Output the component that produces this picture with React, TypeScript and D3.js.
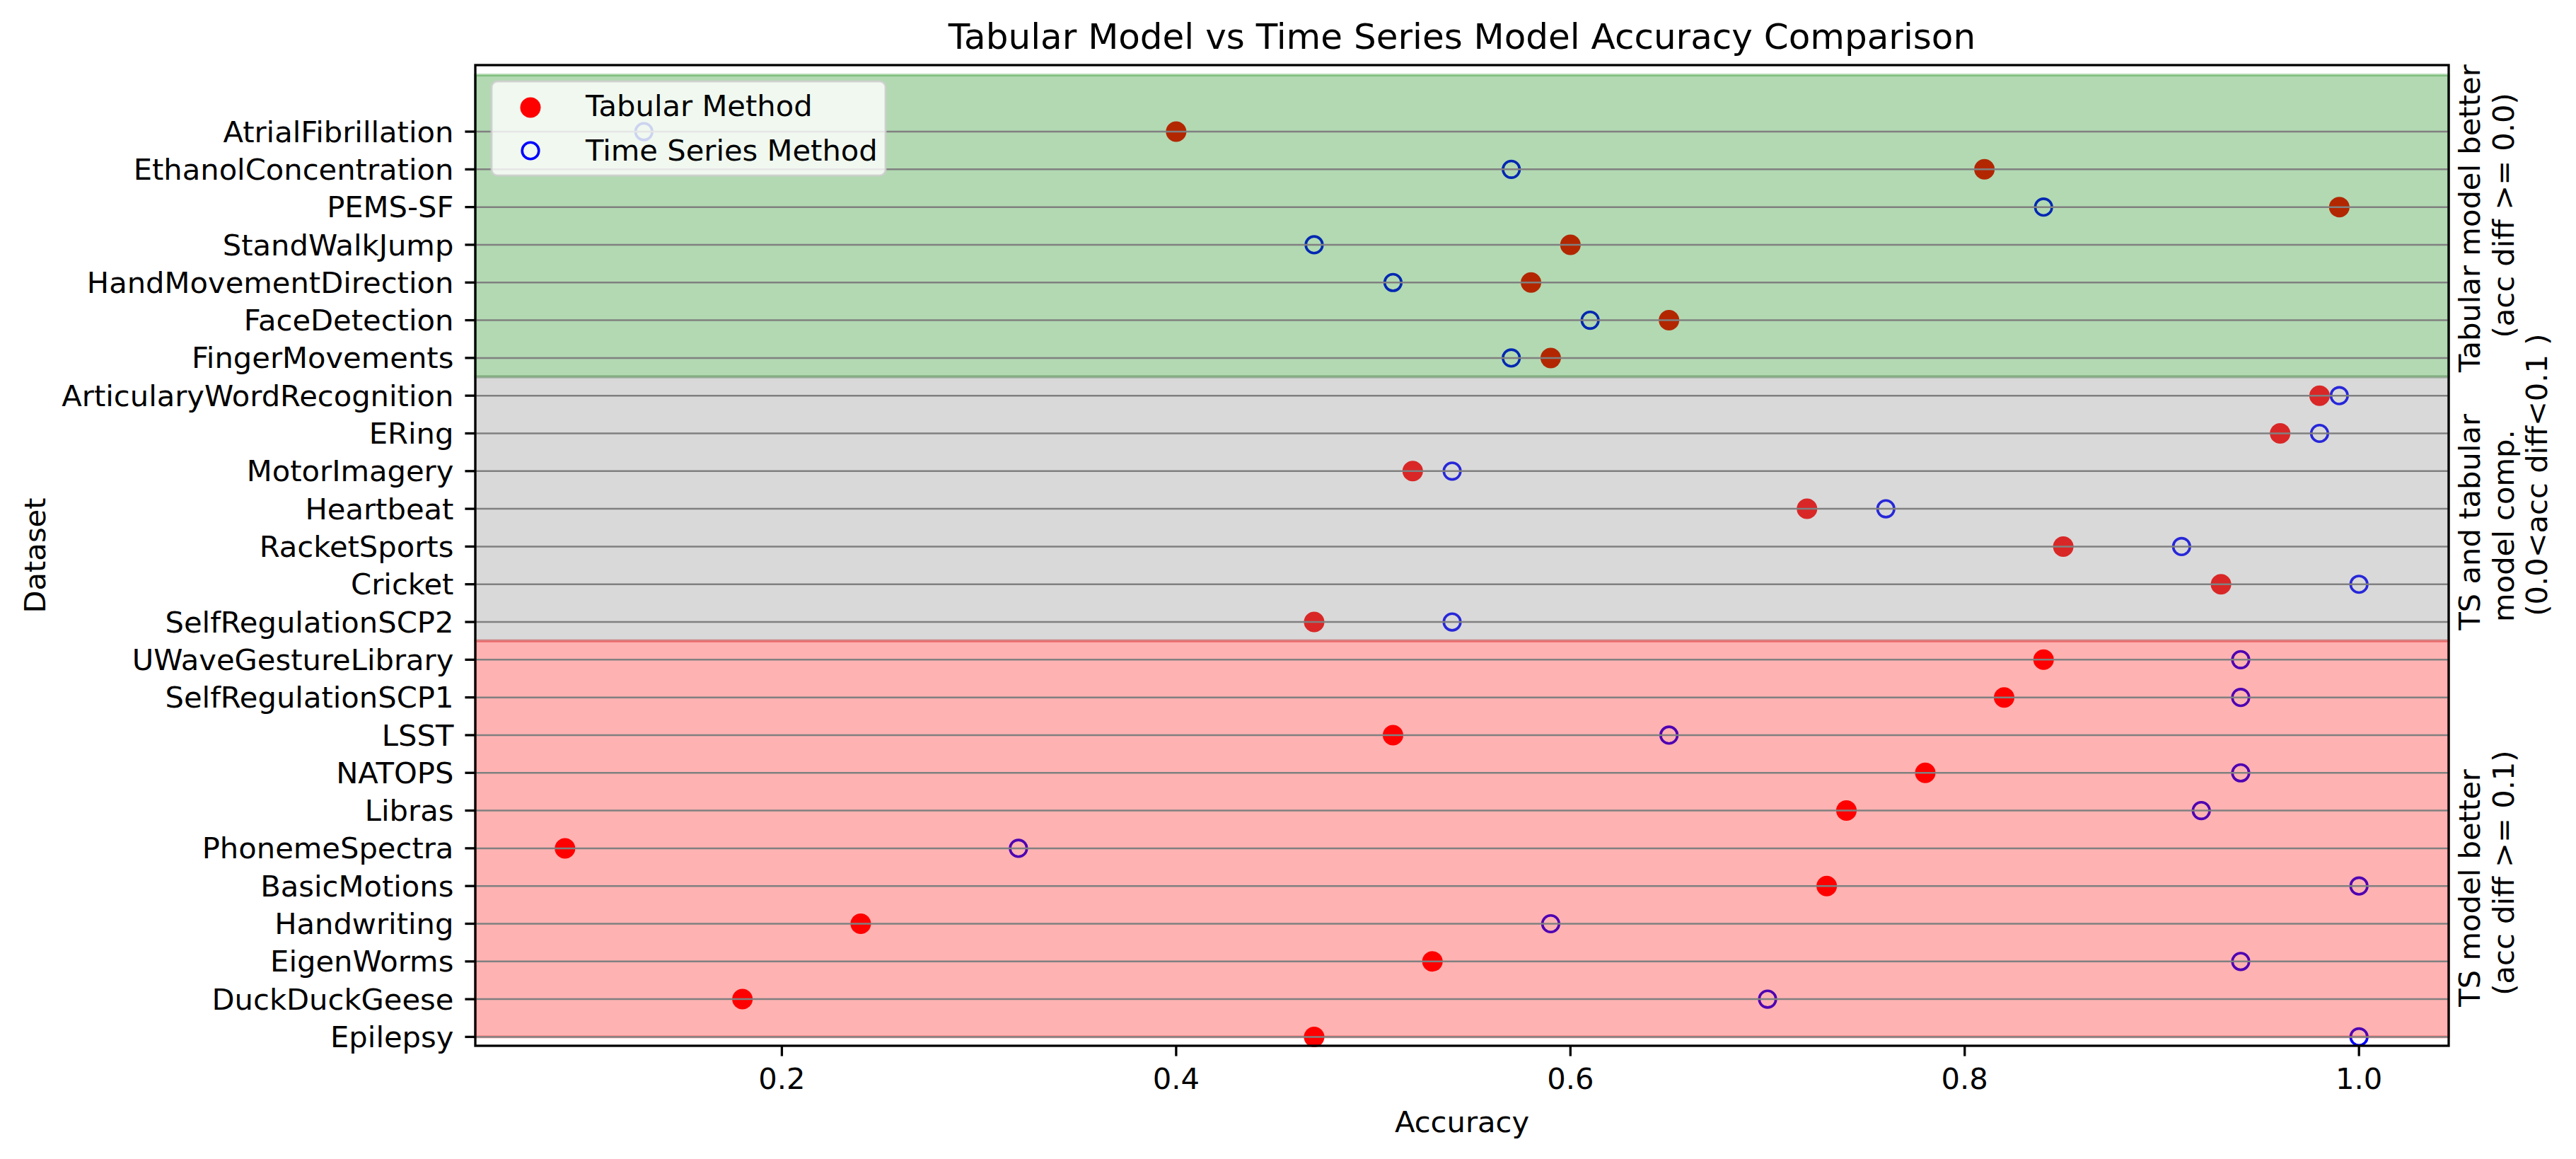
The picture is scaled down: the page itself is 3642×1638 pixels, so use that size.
import * as d3 from "d3";

const W = 3642;
const H = 1638;
const FONT = "'DejaVu Sans', sans-serif";
const FS = 41.67;
const MARGIN = { top: 92, right: W - 3462, bottom: H - 1478, left: 672 };

// datasets, top to bottom
const datasets = [
  "AtrialFibrillation",
  "EthanolConcentration",
  "PEMS-SF",
  "StandWalkJump",
  "HandMovementDirection",
  "FaceDetection",
  "FingerMovements",
  "ArticularyWordRecognition",
  "ERing",
  "MotorImagery",
  "Heartbeat",
  "RacketSports",
  "Cricket",
  "SelfRegulationSCP2",
  "UWaveGestureLibrary",
  "SelfRegulationSCP1",
  "LSST",
  "NATOPS",
  "Libras",
  "PhonemeSpectra",
  "BasicMotions",
  "Handwriting",
  "EigenWorms",
  "DuckDuckGeese",
  "Epilepsy",
];

const tabularAcc = [
  0.4, 0.81, 0.99, 0.6, 0.58, 0.65, 0.59, 0.98, 0.96, 0.52, 0.72, 0.85, 0.93,
  0.47, 0.84, 0.82, 0.51, 0.78, 0.74, 0.09, 0.73, 0.24, 0.53, 0.18, 0.47,
];

const tsAcc = [
  0.13, 0.57, 0.84, 0.47, 0.51, 0.61, 0.57, 0.99, 0.98, 0.54, 0.76, 0.91, 1.0,
  0.54, 0.94, 0.94, 0.65, 0.94, 0.92, 0.32, 1.0, 0.59, 0.94, 0.7, 1.0,
];

const xTicks = [0.2, 0.4, 0.6, 0.8, 1.0];

// shaded regions (in category index units) and their side labels
const bandStart = [-1.5, 6.5, 13.5];
const bandEnd = [6.5, 13.5, 24];
const bandColor = ["#008000", "#808080", "#ff0000"];
const bandLabels = [
  ["Tabular model better", "(acc diff >= 0.0)"],
  ["TS and tabular", "model comp.", "(0.0<acc diff<0.1 )"],
  ["TS model better", "(acc diff >= 0.1)"],
];
// per-line centre (index units) of the side labels
const bandLabelCenter = [
  [2.3, 2.22],
  [10.35, 10.45, 9.1],
  [20.05, 19.65],
];

const legendLabels = ["Tabular Method", "Time Series Method"];

export default function App() {
  const x = d3
    .scaleLinear()
    .domain([0.0445, 1.0455])
    .range([MARGIN.left, W - MARGIN.right]);
  const y = d3
    .scaleLinear()
    .domain([-1.764, 24.236])
    .range([MARGIN.top, H - MARGIN.bottom]);

  const x0 = MARGIN.left;
  const x1 = W - MARGIN.right;
  const y0 = MARGIN.top;
  const y1 = H - MARGIN.bottom;
  const tickLen = 14.6;

  const legX = x0 + 23;
  const legY = y0 + 23;

  return (
    <svg
      width={W}
      height={H}
      style={{ position: "absolute", left: 0, top: 0, background: "#fff" }}
      fontFamily={FONT}
    >
      <rect x={0} y={0} width={W} height={H} fill="#fff" />

      {/* points drawn first, bands go over them */}
      {datasets.map((d, i) => (
        <circle key={"t" + d} cx={x(tabularAcc[i])} cy={y(i)} r={14.5} fill="#ff0000" />
      ))}
      {datasets.map((d, i) => (
        <circle
          key={"s" + d}
          cx={x(tsAcc[i])}
          cy={y(i)}
          r={11.8}
          fill="none"
          stroke="#0000ff"
          strokeWidth={3.6}
        />
      ))}

      {bandStart.map((b, k) => (
        <rect
          key={"band" + k}
          x={x0}
          y={y(b)}
          width={x1 - x0}
          height={y(bandEnd[k]) - y(b)}
          fill={bandColor[k]}
          fillOpacity={0.3}
          stroke={bandColor[k]}
          strokeOpacity={0.3}
          strokeWidth={4}
        />
      ))}

      {/* horizontal grid at each dataset */}
      {datasets.map((d, i) => (
        <line key={"g" + d} x1={x0} x2={x1} y1={y(i)} y2={y(i)} stroke="#808080" strokeWidth={2.5} />
      ))}

      {/* frame */}
      <rect x={x0} y={y0} width={x1 - x0} height={y1 - y0} fill="none" stroke="#000" strokeWidth={3.3} />

      {/* y ticks */}
      {datasets.map((d, i) => (
        <g key={"yt" + d}>
          <line x1={x0 - tickLen} x2={x0} y1={y(i)} y2={y(i)} stroke="#000" strokeWidth={3.3} />
          <text x={x0 - tickLen - 16} y={y(i)} dy="0.35em" textAnchor="end" fontSize={FS} fill="#000">
            {d}
          </text>
        </g>
      ))}

      {/* x ticks */}
      {xTicks.map((t) => (
        <g key={"xt" + t}>
          <line x1={x(t)} x2={x(t)} y1={y1} y2={y1 + tickLen} stroke="#000" strokeWidth={3.3} />
          <text x={x(t)} y={1539} textAnchor="middle" fontSize={FS} fill="#000">
            {t.toFixed(1)}
          </text>
        </g>
      ))}

      <text x={(x0 + x1) / 2} y={1600} textAnchor="middle" fontSize={FS} fill="#000">
        Accuracy
      </text>
      <text
        transform={`translate(64,${(y0 + y1) / 2}) rotate(-90)`}
        textAnchor="middle"
        fontSize={FS}
        fill="#000"
      >
        Dataset
      </text>
      <text x={(x0 + x1) / 2} y={69} textAnchor="middle" fontSize={50} fill="#000">
        Tabular Model vs Time Series Model Accuracy Comparison
      </text>

      {/* side labels for bands */}
      {bandLabels.map((lines, k) =>
        lines.map((ln, j) => (
          <text
            key={"bl" + k + j}
            transform={`translate(${3506 + j * 47.5},${y(bandLabelCenter[k][j])}) rotate(-90)`}
            textAnchor="middle"
            fontSize={FS}
            fill="#000"
          >
            {ln}
          </text>
        ))
      )}

      {/* legend */}
      <rect
        x={legX}
        y={legY}
        width={557}
        height={133}
        rx={8}
        fill="#fff"
        fillOpacity={0.8}
        stroke="#cccccc"
        strokeOpacity={0.8}
        strokeWidth={3}
      />
      <circle cx={legX + 55} cy={legY + 37} r={14.5} fill="#ff0000" />
      <circle cx={legX + 55} cy={legY + 98} r={11.8} fill="none" stroke="#0000ff" strokeWidth={3.6} />
      {legendLabels.map((l, i) => (
        <text key={l} x={legX + 133} y={legY + 49 + i * 63} fontSize={FS} fill="#000">
          {l}
        </text>
      ))}
    </svg>
  );
}
